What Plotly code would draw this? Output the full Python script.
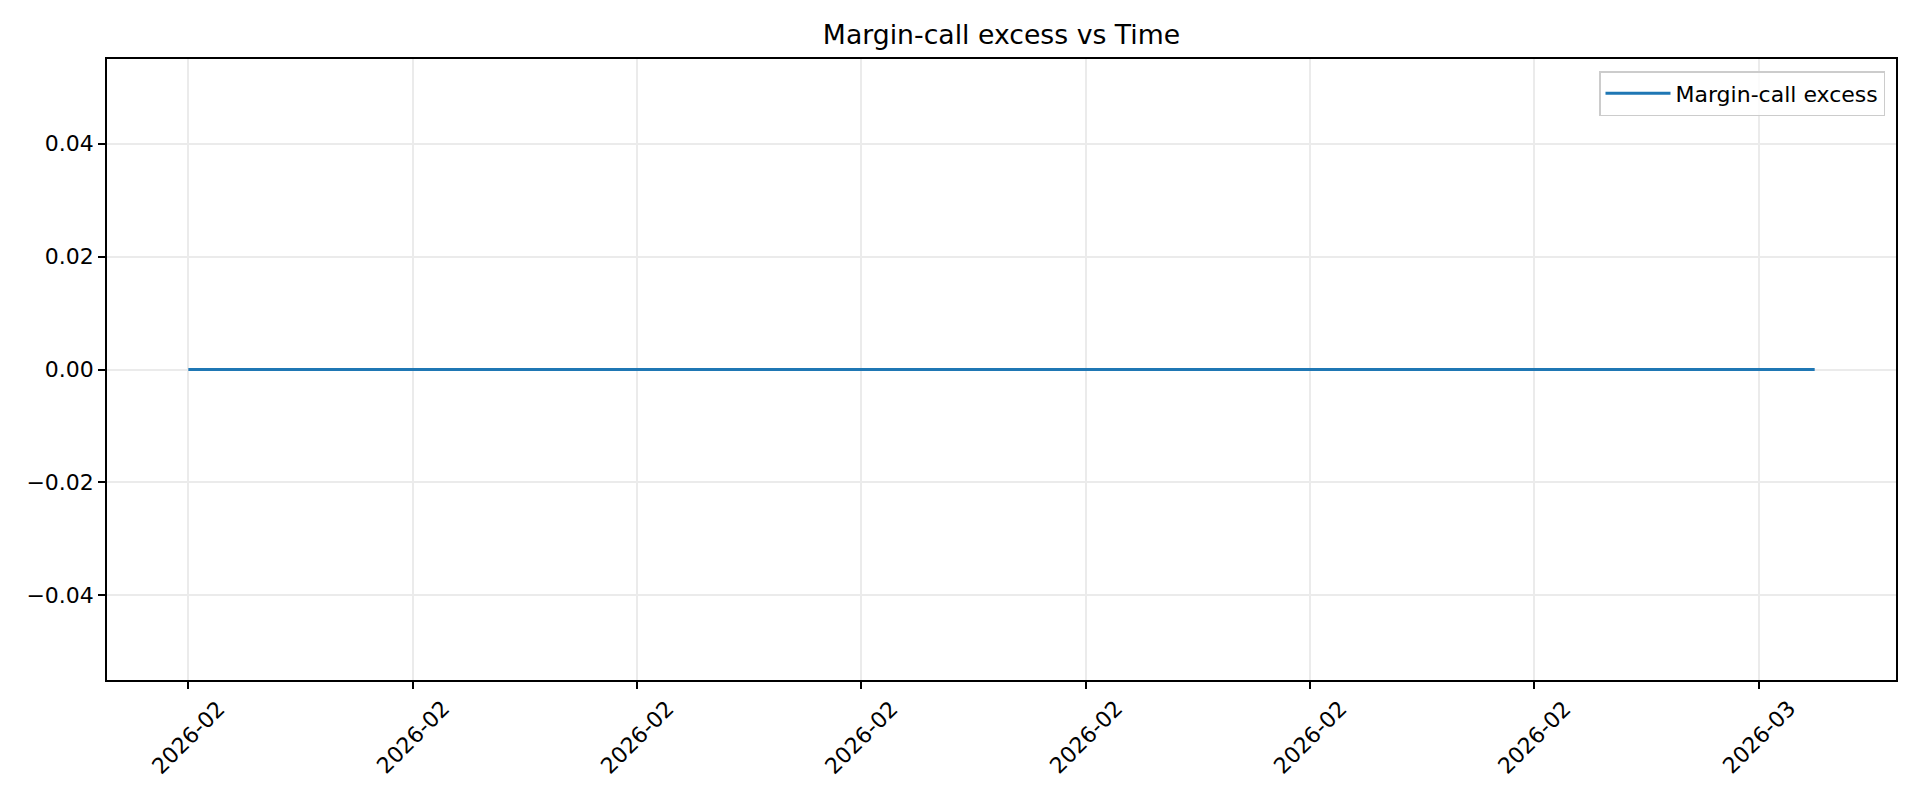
import pandas as pd
import plotly.graph_objects as go

# Data
dates = pd.date_range("2026-02-01", "2026-03-02", freq="D")
excess = [0.0] * len(dates)
series_name = "Margin-call excess"
title_text = "Margin-call excess vs Time"
x_tick_dates = pd.to_datetime(["2026-02-01", "2026-02-05", "2026-02-09", "2026-02-13",
                               "2026-02-17", "2026-02-21", "2026-02-25", "2026-03-01"])
y_tick_vals = [-0.04, -0.02, 0.0, 0.02, 0.04]

FONT = "DejaVu Sans"
OFF = 8  # default page body margin
W, H = 1920 - 2 * OFF, 800 - 2 * OFF
L, R, T, B = 107 - OFF, 1920 - OFF - 1896, 59 - OFF, 800 - OFF - 680

# matplotlib-like 5% margins
start, end = dates.min(), dates.max()
span = end - start
x_range = [start - 0.05 * span, end + 0.05 * span]
y_range = [-0.055, 0.055]

fig = go.Figure()
fig.add_trace(go.Scatter(x=dates, y=excess, mode="lines", name=series_name,
                         line=dict(color="#1f77b4", width=3)))

for d in x_tick_dates:
    fig.add_annotation(x=d, xref="x", y=0, yref="paper", text=d.strftime("%Y-%m"),
                       showarrow=False, textangle=-45, xanchor="center", yanchor="middle",
                       yshift=-57, font=dict(family=FONT, size=22, color="black"))

plot_w = W - L - R
plot_h = H - T - B
fig.update_layout(
    width=W, height=H,
    margin=dict(l=L, r=R, t=T, b=B, autoexpand=False),
    paper_bgcolor="white", plot_bgcolor="white",
    font=dict(family=FONT, size=22, color="black"),
    title=dict(text=title_text, x=0.5, xref="paper", xanchor="center",
               y=1 - (35 - OFF) / H, yref="container", yanchor="middle",
               font=dict(family=FONT, size=26.7, color="black")),
    showlegend=True,
    legend=dict(x=(1885 - 107) / plot_w, y=1 - (71 - 59) / plot_h,
                xanchor="right", yanchor="top", itemwidth=65,
                bgcolor="rgba(255,255,255,0.8)", bordercolor="#cccccc", borderwidth=1.5,
                font=dict(family=FONT, size=22, color="black")),
)
fig.update_xaxes(type="date", range=x_range, tickvals=x_tick_dates, showticklabels=False,
                 ticks="outside", ticklen=7, tickwidth=1.6, tickcolor="black",
                 showline=True, linecolor="black", linewidth=1.6, mirror=True,
                 showgrid=True, gridcolor="#ebebeb", gridwidth=1.5, zeroline=False)
fig.update_yaxes(range=y_range, tickvals=y_tick_vals, tickformat=".2f",
                 ticks="outside", ticklen=7, tickwidth=1.6, tickcolor="black",
                 showline=True, linecolor="black", linewidth=1.6, mirror=True,
                 showgrid=True, gridcolor="#ebebeb", gridwidth=1.5, zeroline=False,
                 tickfont=dict(family=FONT, size=22, color="black"))

fig.write_html("out.html")
